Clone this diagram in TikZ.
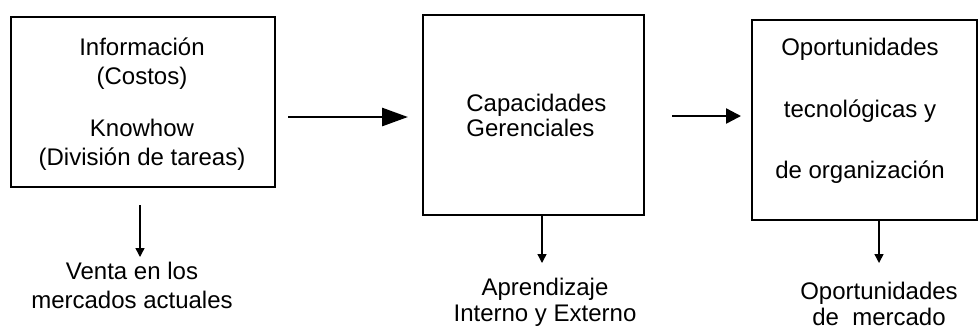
\documentclass[tikz,border=0pt]{standalone}
\usepackage{fontspec}
\setmainfont{Liberation Sans}
\usetikzlibrary{arrows.meta}
\begin{document}
\begin{tikzpicture}[x=0.5pt,y=-0.5pt,
  box/.style={draw,line width=1pt,rectangle,inner sep=0pt},
  txt/.style={inner sep=0pt,anchor=base,font=\fontsize{12pt}{15pt}\selectfont},
  bigarrow/.style={line width=1.4pt,-{Triangle[length=13pt,width=9pt]}},
  midarrow/.style={line width=1.2pt,-{Triangle[length=7.5pt,width=7.5pt]}},
  downarrow/.style={line width=0.7pt,-{Triangle[length=4.5pt,width=4.5pt]}}]
\useasboundingbox (0,0) rectangle (978,329);
% boxes
\node[box,minimum width=132pt,minimum height=85pt] (b1) at (143,102) {};
\node[box,minimum width=110.5pt,minimum height=100pt] (b2) at (533.5,115) {};
\node[box,minimum width=112.5pt,minimum height=100pt] (b3) at (864.5,120) {};
% box 1 text
\node[txt] (t11) at (142,55) {Información};
\node[txt] (t12) at (142,84) {(Costos)};
\node[txt] (t13) at (142,136) {Knowhow};
\node[txt] (t14) at (142,165) {(División de tareas)};
% box 2 text
\node[txt,anchor=base west] (t21) at (466,111) {Capacidades};
\node[txt,anchor=base west] (t22) at (466,136) {Gerenciales};
% box 3 text
\node[txt] (t31) at (860,55) {Oportunidades};
\node[txt] (t32) at (860,117) {tecnológicas y};
\node[txt] (t33) at (860,178) {de organización};
% bottom labels
\node[txt] (l11) at (132,279) {Venta en los};
\node[txt] (l12) at (132,308) {mercados actuales};
\node[txt] (l21) at (545,295) {Aprendizaje};
\node[txt] (l22) at (545,321) {Interno y Externo};
\node[txt] (l31) at (879,299) {Oportunidades};
\node[txt] (l32) at (879,325) {de\ \ mercado};
% connectors
\coordinate (a1s) at (288,117);
\coordinate (a1e) at (408,117);
\coordinate (a2s) at (672,116);
\coordinate (a2e) at (741,116);
\draw[bigarrow] (a1s) -- (a1e);
\draw[midarrow] (a2s) -- (a2e);
\coordinate (d1s) at (140,205);
\coordinate (d1e) at (140,257);
\coordinate (d2e) at (542,263);
\coordinate (d3e) at (879,263);
\draw[downarrow] (d1s) -- (d1e);
\draw[downarrow] (b2.south -| d2e) -- (d2e);
\draw[downarrow] (b3.south -| d3e) -- (d3e);
\end{tikzpicture}
\end{document}
